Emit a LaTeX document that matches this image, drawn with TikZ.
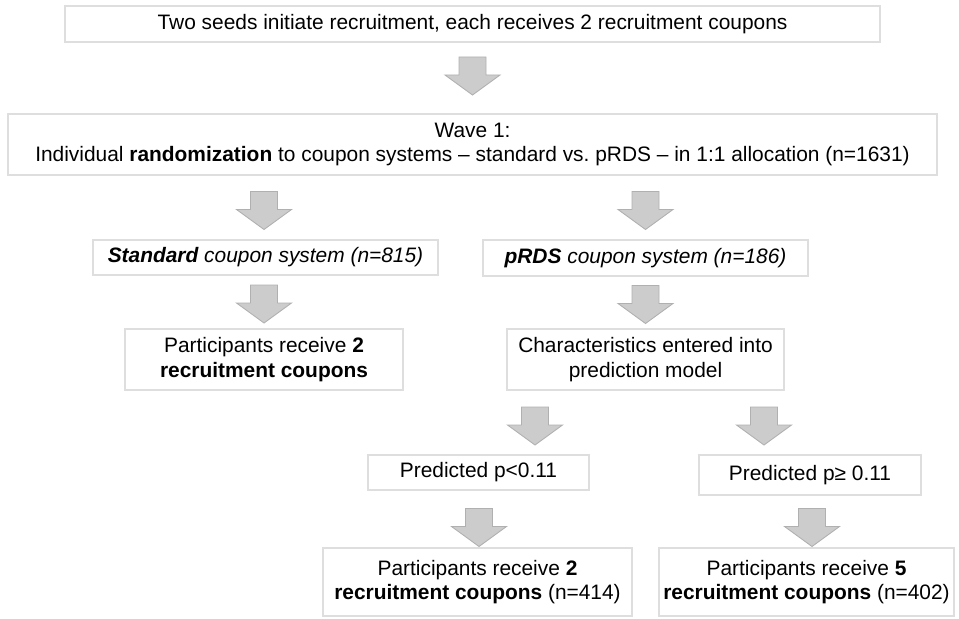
\documentclass[tikz,border=0pt]{standalone}
\usepackage{fontspec}
\setmainfont{Liberation Sans}
\usetikzlibrary{calc}

\definecolor{boxgray}{RGB}{222,222,222}
\definecolor{arrowfill}{RGB}{204,204,204}
\definecolor{arrowline}{RGB}{176,176,176}

% block arrow between two boxes, shifted by (dx,dy) in px
\newcommand{\blockarrow}[4]{%
  \path ($(#1.south)!0.5!(#2.north)$) coordinate (mid);
  \draw[blockarrow] ($(mid -| #2.north)+(#3,#4)$) ++(-13.5,-19) -- ++(27,0) -- ++(0,18)
    -- ++(14,0) -- ++(-27.5,20) -- ++(-27.5,-20) -- ++(14,0) -- cycle;
}

\begin{document}
\begin{tikzpicture}[x=0.02cm,y=-0.02cm,
	flowbox/.style 2 args={draw=boxgray,line width=0.7pt,fill=white,align=center,inner sep=0pt,
		minimum width=#1*0.02cm,minimum height=#2*0.02cm,font=\fontsize{11.9}{13.8}\selectfont},
	blockarrow/.style={fill=arrowfill,draw=arrowline,line width=0.5pt}]
	\useasboundingbox (0,0) rectangle (959,618);
	
	% boxes
	\node[flowbox={815}{36}] (seeds) at (472.5,24) {Two seeds initiate recruitment, each receives 2 recruitment coupons};
	\node[flowbox={929}{61}] (wave) at (472.5,144.5) {Wave 1:\\Individual \textbf{randomization} to coupon systems -- standard vs.\ pRDS -- in 1:1 allocation (n=1631)};
	\node[flowbox={345}{35}] (std) at (265.5,257.5) {\textit{\textbf{Standard} coupon system (n=815)}};
	\node[flowbox={325}{36}] (prds) at (645.5,258) {\textit{\textbf{pRDS} coupon system (n=186)}};
	\node[flowbox={278}{61}] (partstd) at (264,359.5) {Participants receive \textbf{2}\\\textbf{recruitment coupons}};
	\node[flowbox={277}{61}] (model) at (645.5,359.5) {Characteristics entered into\\prediction model};
	\node[flowbox={221}{35}] (predlow) at (478.5,472.5) {Predicted p<0.11};
	\node[flowbox={222}{40}] (predhigh) at (810,475) {Predicted p≥ 0.11};
	\node[flowbox={309}{68}] (partlow) at (477.5,582) {Participants receive \textbf{2}\\\textbf{recruitment coupons} (n=414)};
	\node[flowbox={295}{68}] (parthigh) at (806.5,582) {Participants receive \textbf{5}\\\textbf{recruitment coupons} (n=402)};
	
	% arrows
	\foreach \a/\b/\dx/\dy in {seeds/wave/0/-2, wave/std/-1.5/3, wave/prds/0/3, std/partstd/0/2,
		prds/model/0/2, model/predlow/56.5/3.5, model/predhigh/-46/3.5,
		predlow/partlow/1.5/8.5, predhigh/parthigh/5.5/6}{
		\blockarrow{\a}{\b}{\dx}{\dy}
	}
\end{tikzpicture}
\end{document}
